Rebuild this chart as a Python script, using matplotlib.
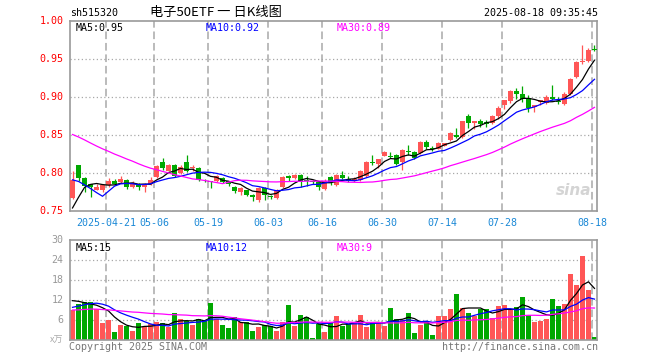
import numpy as np
import pandas as pd
import matplotlib
matplotlib.use('Agg')
import matplotlib.pyplot as plt

# trading days shown: 2025-04-11 .. 2025-08-18 (SSE holidays removed)
holidays = ['2025-05-01', '2025-05-02', '2025-05-05', '2025-06-02']
days = pd.bdate_range('2025-04-11', '2025-08-18')
days = days[~days.isin(pd.to_datetime(holidays))]
tick_days = ['2025-04-21', '2025-05-06', '2025-05-19', '2025-06-03', '2025-06-16',
             '2025-06-30', '2025-07-14', '2025-07-28', '2025-08-18']

# daily K line
opens = [0.767, 0.811, 0.794, 0.785, 0.778, 0.777, 0.784, 0.790, 0.788, 0.791,
         0.782, 0.786, 0.782, 0.785, 0.795, 0.814, 0.803, 0.811, 0.800, 0.814,
         0.806, 0.807, 0.790, 0.789, 0.789, 0.794, 0.789, 0.782, 0.775, 0.777,
         0.771, 0.764, 0.780, 0.769, 0.767, 0.781, 0.796, 0.793, 0.798, 0.791,
         0.789, 0.788, 0.779, 0.795, 0.784, 0.798, 0.792, 0.789, 0.791, 0.796,
         0.814, 0.812, 0.823, 0.823, 0.824, 0.815, 0.829, 0.828, 0.826, 0.841,
         0.833, 0.832, 0.836, 0.843, 0.850, 0.847, 0.875, 0.866, 0.868, 0.867,
         0.866, 0.875, 0.889, 0.895, 0.908, 0.904, 0.899, 0.887, 0.894, 0.892,
         0.900, 0.895, 0.891, 0.904, 0.926, 0.946, 0.947, 0.963]
highs = [0.802, 0.811, 0.795, 0.786, 0.786, 0.784, 0.793, 0.792, 0.796, 0.792,
         0.789, 0.787, 0.787, 0.795, 0.811, 0.820, 0.812, 0.812, 0.810, 0.824,
         0.811, 0.808, 0.792, 0.790, 0.798, 0.795, 0.790, 0.783, 0.781, 0.778,
         0.773, 0.781, 0.782, 0.771, 0.779, 0.796, 0.798, 0.799, 0.799, 0.796,
         0.791, 0.789, 0.792, 0.796, 0.799, 0.803, 0.796, 0.795, 0.804, 0.816,
         0.824, 0.819, 0.829, 0.828, 0.825, 0.831, 0.837, 0.829, 0.842, 0.844,
         0.835, 0.841, 0.840, 0.854, 0.859, 0.869, 0.877, 0.869, 0.871, 0.870,
         0.876, 0.888, 0.896, 0.909, 0.912, 0.914, 0.903, 0.890, 0.896, 0.902,
         0.916, 0.900, 0.907, 0.925, 0.947, 0.968, 0.964, 0.968]
lows = [0.766, 0.790, 0.775, 0.768, 0.777, 0.775, 0.782, 0.784, 0.787, 0.779,
        0.780, 0.778, 0.775, 0.784, 0.794, 0.804, 0.802, 0.795, 0.799, 0.801,
        0.802, 0.790, 0.788, 0.780, 0.788, 0.787, 0.783, 0.774, 0.771, 0.770,
        0.763, 0.762, 0.765, 0.766, 0.766, 0.780, 0.789, 0.792, 0.782, 0.783,
        0.786, 0.777, 0.778, 0.784, 0.783, 0.792, 0.788, 0.788, 0.789, 0.795,
        0.811, 0.807, 0.822, 0.820, 0.811, 0.804, 0.824, 0.818, 0.825, 0.831,
        0.829, 0.831, 0.835, 0.842, 0.846, 0.846, 0.859, 0.858, 0.861, 0.861,
        0.865, 0.871, 0.884, 0.892, 0.897, 0.893, 0.880, 0.880, 0.890, 0.891,
        0.896, 0.891, 0.890, 0.903, 0.925, 0.944, 0.946, 0.961]
closes = [0.791, 0.794, 0.783, 0.782, 0.781, 0.784, 0.790, 0.785, 0.792, 0.781,
          0.787, 0.781, 0.786, 0.791, 0.809, 0.806, 0.811, 0.796, 0.808, 0.802,
          0.808, 0.791, 0.789, 0.788, 0.796, 0.788, 0.785, 0.776, 0.780, 0.771,
          0.769, 0.780, 0.771, 0.768, 0.778, 0.795, 0.794, 0.798, 0.788, 0.789,
          0.788, 0.782, 0.789, 0.788, 0.798, 0.794, 0.790, 0.792, 0.802, 0.815,
          0.813, 0.818, 0.828, 0.821, 0.812, 0.830, 0.828, 0.820, 0.841, 0.834,
          0.832, 0.840, 0.839, 0.853, 0.847, 0.868, 0.866, 0.868, 0.864, 0.865,
          0.875, 0.886, 0.896, 0.908, 0.904, 0.897, 0.886, 0.889, 0.896, 0.900,
          0.898, 0.893, 0.904, 0.924, 0.946, 0.948, 0.962, 0.962]
# volume, 万手
volumes = [9.0, 10.8, 11.5, 11.5, 9.4, 5.2, 6.0, 2.4, 4.5, 4.2,
           2.8, 5.1, 3.8, 4.8, 5.5, 5.0, 3.9, 8.1, 6.2, 5.8,
           4.5, 6.2, 6.0, 11.1, 6.2, 4.5, 3.6, 6.8, 5.3, 5.3,
           2.7, 3.9, 4.6, 4.1, 2.7, 5.4, 10.5, 4.2, 7.5, 6.9,
           0.7, 4.8, 2.5, 5.0, 7.2, 4.3, 4.7, 5.0, 7.5, 3.9,
           5.0, 5.0, 4.2, 9.6, 6.3, 6.0, 8.1, 2.1, 4.5, 5.7,
           1.5, 7.2, 7.2, 9.3, 13.8, 9.6, 8.1, 7.2, 9.3, 9.3,
           6.6, 10.2, 10.5, 9.3, 9.9, 12.9, 7.5, 5.4, 5.7, 6.3,
           12.3, 10.2, 10.8, 19.8, 16.5, 25.2, 15.0, 0.9]

# the 29 sessions before the window, estimated so the MA lines start where the chart does
prev_closes = [0.892, 0.898, 0.905, 0.900, 0.895, 0.888, 0.893, 0.885, 0.880, 0.876,
               0.884, 0.879, 0.872, 0.868, 0.874, 0.870, 0.865, 0.862, 0.858, 0.866,
               0.815, 0.828, 0.830, 0.835, 0.832, 0.724, 0.718, 0.762, 0.775]
prev_volumes = [9.5, 8.2, 7.6, 10.1, 9.0, 8.4, 7.8, 8.8, 9.3, 8.0,
                7.5, 8.9, 9.6, 8.1, 7.9, 8.7, 9.2, 8.3, 7.7, 9.4,
                7.0, 7.5, 8.2, 8.0, 8.3, 11.8, 13.5, 13.5, 11.2]

RED = '#ff5656'
GREEN = '#00a800'
GRID = '#a8a8a8'
MONO = 'DejaVu Sans Mono'
CJK = ['Noto Sans CJK SC', 'DejaVu Sans']
W, H = 660, 360


def moving_avg(prev, vals, n):
    s = pd.Series(list(prev) + list(vals))
    return s.rolling(n).mean().values[len(prev):]


o, h, l, c = map(np.array, (opens, highs, lows, closes))
vol = np.array(volumes)
x = np.arange(len(days))
up = c >= o
cols = np.where(up, RED, GREEN)

ma_p = {n: moving_avg(prev_closes, closes, n) for n in (5, 10, 30)}
ma_v = {n: moving_avg(prev_volumes, volumes, n) for n in (5, 10, 30)}
ma_cols = {5: 'black', 10: '#0000ff', 30: '#ff00ff'}

fig = plt.figure(figsize=(W / 100, H / 100), dpi=100)
fig.patch.set_facecolor('white')
ax = fig.add_axes([70 / W, 1 - 211 / H, 527 / W, 190 / H])
axv = fig.add_axes([70 / W, 1 - 340 / H, 527 / W, 100 / H])

xlim = (-0.42, len(days) - 1 + 0.42)
pos = {d.strftime('%Y-%m-%d'): i for i, d in enumerate(days)}
tick_x = np.array([pos[d] for d in tick_days]) - 0.42

for a in (ax, axv):
    a.set_xlim(*xlim)
    for s in a.spines.values():
        s.set_color('#999999')
        s.set_linewidth(1.2)
    a.set_xticks([])
    a.set_yticks([])
    for t in tick_x:
        a.axvline(t, color=GRID, lw=1.1, ls=(0, (5, 2.5)), zorder=0)

# price panel
ax.set_ylim(0.75, 1.0)
for yv in (0.80, 0.85, 0.90, 0.95):
    ax.axhline(yv, color=GRID, lw=0.9, ls=(0, (1, 2)), zorder=0)
ax.vlines(x, l, h, colors=cols, lw=0.9, zorder=2)
body = np.maximum(np.abs(c - o), 0.0011)
ax.bar(x, body, bottom=np.minimum(o, c), width=0.82, color=cols, lw=0, zorder=3)
for n in (5, 10, 30):
    ax.plot(x, ma_p[n], color=ma_cols[n], lw=0.9, zorder=4)

for yv in (0.75, 0.80, 0.85, 0.90, 0.95, 1.00):
    ax.text(-0.012, yv, f'{yv:.2f}', transform=ax.get_yaxis_transform(),
            ha='right', va='center', color='red', fontsize=7.2, family=MONO)
for t, d in zip(tick_x, tick_days):
    lab = d if d == tick_days[0] else d[5:]
    ax.text(t, -0.035, lab, transform=ax.get_xaxis_transform(), ha='center',
            va='top', color='#1a88d6', fontsize=7.2, family=MONO)

ax.text(0.01, 0.99, f'MA5:{ma_p[5][-1]:.2f}', transform=ax.transAxes,
        ha='left', va='top', color='black', fontsize=7.2, family=MONO)
ax.text(0.258, 0.99, f'MA10:{ma_p[10][-1]:.2f}', transform=ax.transAxes,
        ha='left', va='top', color='#0000ff', fontsize=7.2, family=MONO)
ax.text(0.505, 0.99, f'MA30:{ma_p[30][-1]:.2f}', transform=ax.transAxes,
        ha='left', va='top', color='#ff00ff', fontsize=7.2, family=MONO)
ax.text(0.955, 0.11, 'sina', transform=ax.transAxes, ha='center', va='center',
        color='#d4d4d4', fontsize=11, fontweight='bold', style='italic')

# volume panel
axv.set_ylim(0, 30)
for yv in (6, 12, 18, 24):
    axv.axhline(yv, color=GRID, lw=0.9, ls=(0, (1, 2)), zorder=0)
axv.bar(x, vol, width=0.84, color=cols, lw=0, zorder=2)
for n in (5, 10, 30):
    axv.plot(x, ma_v[n], color=ma_cols[n], lw=0.9, zorder=3)
for yv in (6, 12, 18, 24, 30):
    axv.text(-0.012, yv, str(yv), transform=axv.get_yaxis_transform(),
             ha='right', va='center', color='#999999', fontsize=7.2, family=MONO)
axv.text(-0.012, 0, 'x万', transform=axv.get_yaxis_transform(), ha='right',
         va='center', color='#aaaaaa', fontsize=6.5, family=CJK)
axv.text(0.01, 0.97, f'MA5:{int(ma_v[5][-1])}', transform=axv.transAxes,
         ha='left', va='top', color='black', fontsize=7.2, family=MONO)
axv.text(0.258, 0.97, f'MA10:{int(ma_v[10][-1])}', transform=axv.transAxes,
         ha='left', va='top', color='#0000ff', fontsize=7.2, family=MONO)
axv.text(0.505, 0.97, f'MA30:{int(ma_v[30][-1])}', transform=axv.transAxes,
         ha='left', va='top', color='#ff00ff', fontsize=7.2, family=MONO)

# header / footer
fig.text(70 / W, 1 - 13 / H, 'sh515320', ha='left', va='center',
         fontsize=7.2, family=MONO)
fig.text(216 / W, 1 - 12 / H, '电子50ETF 一 日K线图', ha='center', va='center',
         fontsize=9.5, family=CJK)
fig.text(598 / W, 1 - 13 / H, '2025-08-18 09:35:45', ha='right', va='center',
         fontsize=7.2, family=MONO)
fig.text(69 / W, 1 - 347 / H, 'Copyright 2025 SINA.COM', ha='left', va='center',
         fontsize=7.2, family=MONO, color='#777777')
fig.text(598 / W, 1 - 347 / H, 'http://finance.sina.com.cn', ha='right', va='center',
         fontsize=7.2, family=MONO, color='#777777')

fig.savefig('out.png', dpi=100)
